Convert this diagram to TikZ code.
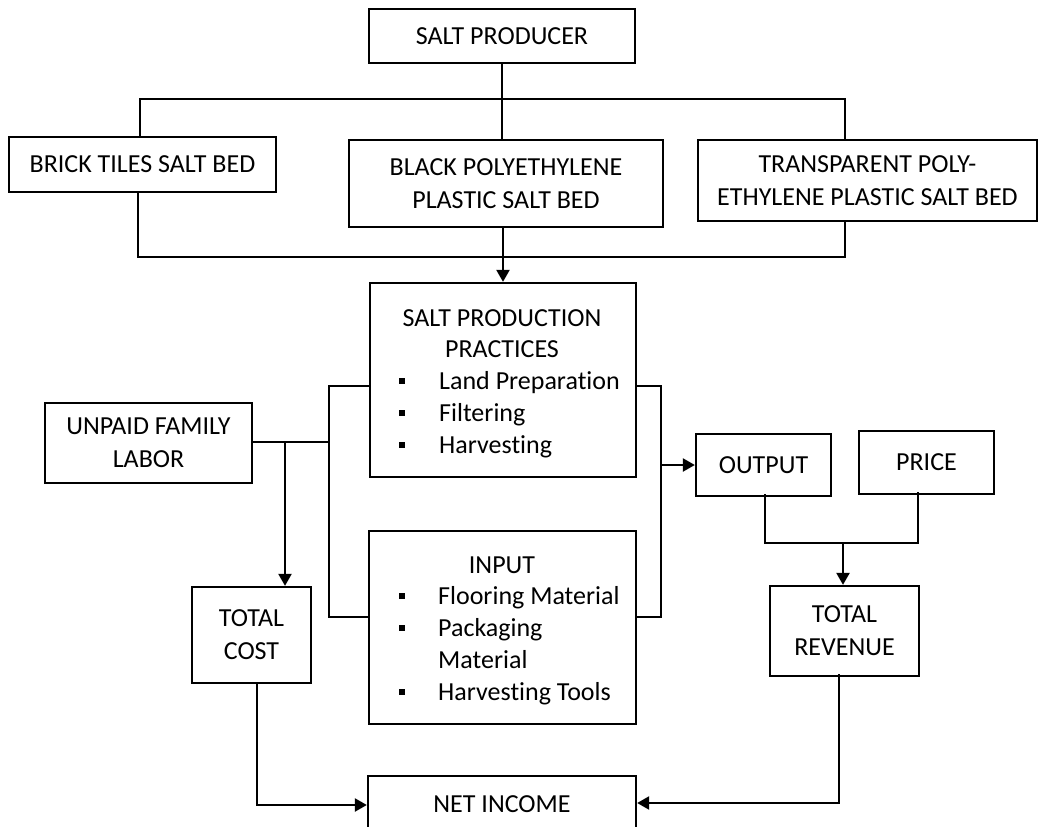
\documentclass[tikz,border=0pt]{standalone}
\usepackage{fontspec}
\setmainfont{Carlito}[Ligatures=NoCommon]
\usetikzlibrary{arrows.meta}
\begin{document}
\begin{tikzpicture}[x=1pt,y=-1pt,
  every node/.style={font=\fontsize{26}{33}\selectfont},
  box/.style={draw, line width=2.3pt, inner sep=0pt, align=center},
  txt/.style={inner sep=0pt, anchor=base west},
  ttl/.style={inner sep=0pt, anchor=base},
  bul/.style={fill, inner sep=0pt, minimum size=6pt},
  ln/.style={line width=2.3pt},
  arr/.style={line width=2.3pt, -{Triangle[length=12pt,width=13pt]}}]
\fill[white] (0,0) rectangle (1039,827);
\useasboundingbox (0,0) rectangle (1039,827);

% boxes
\node[box, minimum width=266pt, minimum height=54pt] (prod) at (502,36) {SALT PRODUCER};
\node[box, minimum width=267pt, minimum height=55pt] (brick) at (142.5,164.5) {BRICK TILES SALT BED};
\node[box, minimum width=314pt, minimum height=87pt] (black) at (506,183.5) {BLACK POLYETHYLENE\\PLASTIC SALT BED};
\node[box, minimum width=339pt, minimum height=81pt] (transp) at (867.5,180.5) {TRANSPARENT POLY-\\ETHYLENE PLASTIC SALT BED};
\node[box, minimum width=266pt, minimum height=194pt] (pp) at (503,380) {};
\node[box, minimum width=207pt, minimum height=80pt] (unpaid) at (148.5,443) {UNPAID FAMILY\\LABOR};
\node[box, minimum width=135pt, minimum height=62pt] (output) at (763.5,465) {OUTPUT};
\node[box, minimum width=135pt, minimum height=63pt] (price) at (926.5,462.5) {PRICE};
\node[box, minimum width=119pt, minimum height=96pt] (tcost) at (251.5,635) {TOTAL\\COST};
\node[box, minimum width=267pt, minimum height=193pt] (inp) at (502.5,627.5) {};
\node[box, minimum width=149pt, minimum height=90pt] (trev) at (844.5,631) {TOTAL\\REVENUE};
\node[box, minimum width=268pt, minimum height=57pt] (ni) at (502,804.5) {NET INCOME};

% practices text
\node[ttl] (pt1) at (502,326) {SALT PRODUCTION};
\node[ttl] (pt2) at (502,357) {PRACTICES};
\node[bul] (pb1) at (402,381) {};
\node[txt] (pl1) at (439,389) {Land Preparation};
\node[bul] (pb2) at (402,413) {};
\node[txt] (pl2) at (439,421) {Filtering};
\node[bul] (pb3) at (402,445) {};
\node[txt] (pl3) at (439,453) {Harvesting};

% input text
\node[ttl] (it1) at (502,573) {INPUT};
\node[bul] (ib1) at (402,596) {};
\node[txt] (il1) at (438,604) {Flooring Material};
\node[bul] (ib2) at (402,628) {};
\node[txt] (il2) at (438,636) {Packaging};
\node[txt] (il3) at (438,668) {Material};
\node[bul] (ib3) at (402,692) {};
\node[txt] (il4) at (438,700) {Harvesting Tools};

% junction coordinates
\coordinate (tl) at (140,99);
\coordinate (tr) at (845,99);
\coordinate (bl) at (138,257);
\coordinate (br) at (845,257);
\coordinate (lt) at (329,386);
\coordinate (lb) at (329,617);
\coordinate (rt) at (661,386);
\coordinate (rb) at (661,617);
\coordinate (uj) at (285,442);
\coordinate (om) at (765,543);
\coordinate (pm) at (918,543);
\coordinate (rm) at (843,543);
\coordinate (rv) at (839,803);
\coordinate (tc) at (257,805);

% connectors
\draw[ln] (prod.south) -- (prod.south |- black.north);
\draw[ln] (brick.north -| tl) -- (tl) -- (tr) -- (transp.north -| tr);
\draw[ln] (brick.south -| bl) -- (bl) -- (br) -- (transp.south -| br);
\draw[arr] (black.south -| pp.north) -- (pp.north);
\draw[ln] (pp.west |- lt) -- (lt) -- (lb) -- (inp.west |- lb);
\draw[ln] (unpaid.east |- uj) -- (uj -| lt);
\draw[arr] (uj) -- (uj |- tcost.north);
\draw[ln] (pp.east |- rt) -- (rt) -- (rb) -- (inp.east |- rb);
\draw[arr] (rt |- output.west) -- (output.west);
\draw[ln] ([yshift=3pt]output.south -| om) -- (om) -- (pm) -- ([yshift=3pt]price.south -| pm);
\draw[arr] (rm) -- (rm |- trev.north);
\draw[arr] ([yshift=3pt]trev.south -| rv) -- (rv) -- (rv -| ni.east);
\draw[arr] (tcost.south -| tc) -- (tc) -- (tc -| ni.west);
\end{tikzpicture}
\end{document}
